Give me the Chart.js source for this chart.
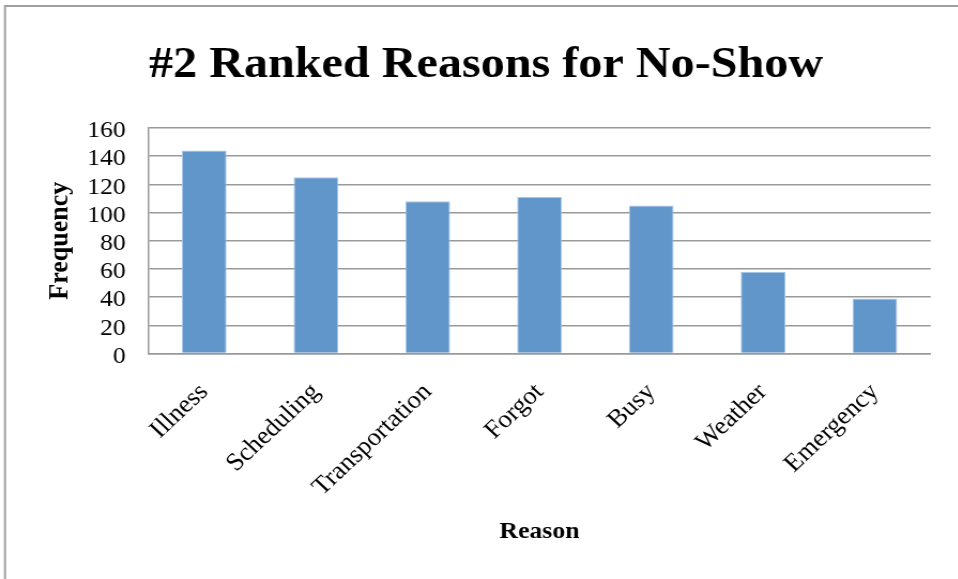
<!DOCTYPE html>
<html>
<head>
<meta charset="utf-8">
<script src="https://cdn.jsdelivr.net/npm/chart.js@4"></script>
<style>
  html, body { margin: 0; padding: 0; background: #fff; overflow: hidden; }
  #myChart { transform: scaleX(1.07); transform-origin: 0 0; }
</style>
</head>
<body>
<canvas id="myChart" width="895" height="579"></canvas>
<script>
const reasons = ['Illness', 'Scheduling', 'Transportation', 'Forgot', 'Busy', 'Weather', 'Emergency']
const counts = [144, 125, 108, 111, 105, 58, 39]
const yTicks = [0, 20, 40, 60, 80, 100, 120, 140, 160]

const serif = "'Liberation Serif', 'Times New Roman', serif"

// thin grey frame around the chart (left and top edges show)
const frame = {
    id: 'frame',
    beforeDraw(chart) {
        const c = chart.ctx
        c.save()
        c.strokeStyle = '#a0a0a0'
        c.lineWidth = 2
        c.beginPath()
        c.moveTo(4.7, 579)
        c.lineTo(4.7, 6)
        c.lineTo(895, 6)
        c.stroke()
        c.restore()
    }
}

const ctx = document.getElementById('myChart').getContext('2d');
new Chart(ctx, {
    type: 'bar',
    data: {
        labels: reasons,
        datasets: [{
            label: 'Frequency',
            data: counts,
            backgroundColor: '#6196cb',
            borderColor: '#a9c6e8',
            borderWidth: 1,
            categoryPercentage: 1,
            barPercentage: 0.4
        }]
    },
    options: {
        responsive: false,
        animation: false,
        layout: { padding: { left: 38.6, right: 25.2, top: 0, bottom: 10 } },
        plugins: {
            legend: { display: false },
            tooltip: { enabled: false },
            title: {
                display: true,
                text: '#2 Ranked Reasons for No-Show',
                color: '#000',
                font: { family: serif, size: 45, weight: 'bold', lineHeight: 1.2 },
                padding: { top: 38, bottom: 36 }
            }
        },
        scales: {
            x: {
                afterFit: s => { s.height = 215.5 },
                grid: { display: false, drawTicks: false },
                border: { display: true, color: '#999', width: 1.5 },
                ticks: {
                    color: '#000',
                    font: { family: serif, size: 25 },
                    minRotation: 45,
                    maxRotation: 45,
                    autoSkip: false,
                    padding: 24
                },
                title: {
                    display: true,
                    text: 'Reason',
                    color: '#000',
                    font: { family: serif, size: 24, weight: 'bold', lineHeight: 1.2 },
                    padding: { top: 0, bottom: 23 }
                }
            },
            y: {
                min: 0,
                max: 160,
                afterFit: s => { s.width = 100 },
                afterBuildTicks: s => { s.ticks = yTicks.map(v => ({ value: v })) },
                grid: { color: '#999', lineWidth: 1.5, drawTicks: false },
                border: { display: true, color: '#999', width: 1.5 },
                ticks: {
                    color: '#000',
                    font: { family: serif, size: 24 },
                    autoSkip: false,
                    padding: 21,
                    labelOffset: 3
                },
                title: {
                    display: true,
                    text: 'Frequency',
                    color: '#000',
                    font: { family: serif, size: 26, weight: 'bold', lineHeight: 1.2 },
                    padding: { top: 2 }
                }
            }
        }
    },
    plugins: [frame]
})
</script>
</body>
</html>
